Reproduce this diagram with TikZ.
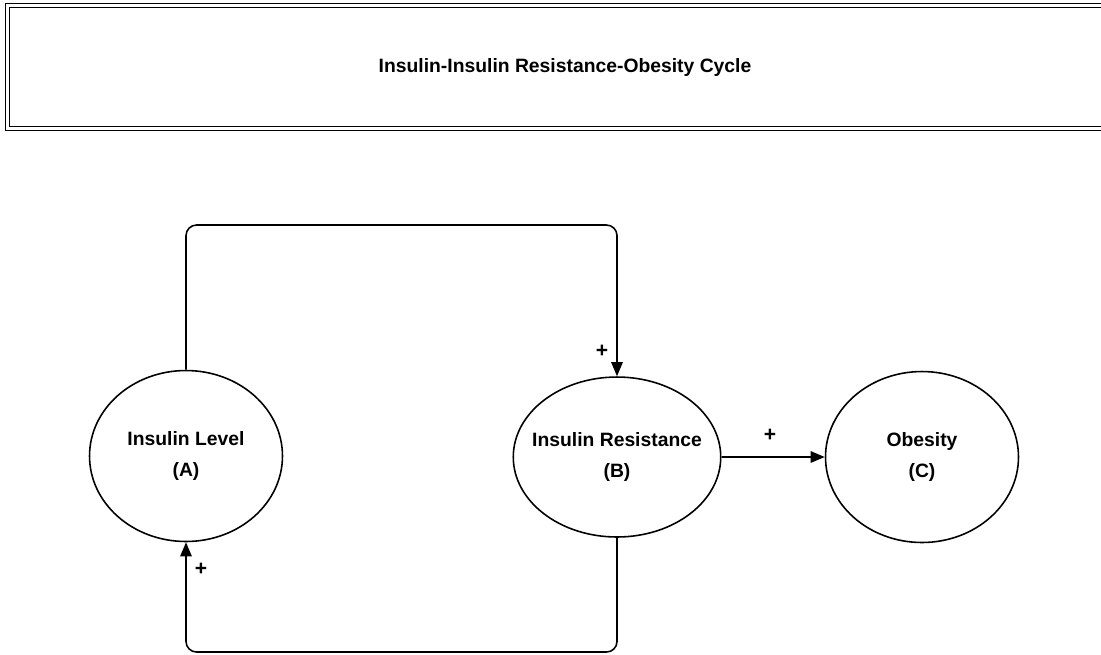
\documentclass[tikz,border=0pt]{standalone}
\usepackage{fontspec}
\setmainfont{Liberation Sans}
\usetikzlibrary{shapes.geometric,arrows.meta}

\tikzset{
  factor/.style={ellipse, draw, line width=0.9pt, minimum width=3.86cm,
    minimum height=3.42cm, inner xsep=-0.5cm, inner ysep=0pt, align=center,
    font=\fontsize{11}{18}\selectfont\bfseries},
  link/.style={->, line width=0.9pt, rounded corners=6pt},
  sign/.style={font=\fontsize{12}{14}\selectfont\bfseries, inner sep=0pt},
}

\begin{document}
\begin{tikzpicture}[x=0.02cm, y=-0.02cm, >={Triangle[length=8pt,width=6.5pt]}]
  \useasboundingbox (0,0) rectangle (1101,654);

  \node[draw, double, double distance=1.6pt, line width=0.7pt,
    minimum width=22.3cm, minimum height=2.45cm,
    font=\fontsize{11}{14}\selectfont\bfseries] (title) at (565,67)
    {Insulin-Insulin Resistance-Obesity Cycle};

  \node[factor] (A) at (186,456) {Insulin Level\\(A)};
  \node[factor, minimum width=4.15cm, minimum height=3.2cm] (B) at (617,457) {Insulin Resistance\\(B)};
  \node[factor] (C) at (922,457) {Obesity\\(C)};

  \coordinate (top) at (0,225);
  \coordinate (bottom) at (0,652);

  \draw[link] (A.north) -- (A.north |- top) -- (B.north |- top) -- (B.north);
  \draw[link] (B.south) -- (B.south |- bottom) -- (A.south |- bottom) -- (A.south);
  \draw[link] (B.east) -- (C.west);

  \node[sign] (plusAB) at (602,351) {+};
  \node[sign] (plusBA) at (201,569) {+};
  \node[sign] (plusBC) at (770,435) {+};
\end{tikzpicture}
\end{document}
